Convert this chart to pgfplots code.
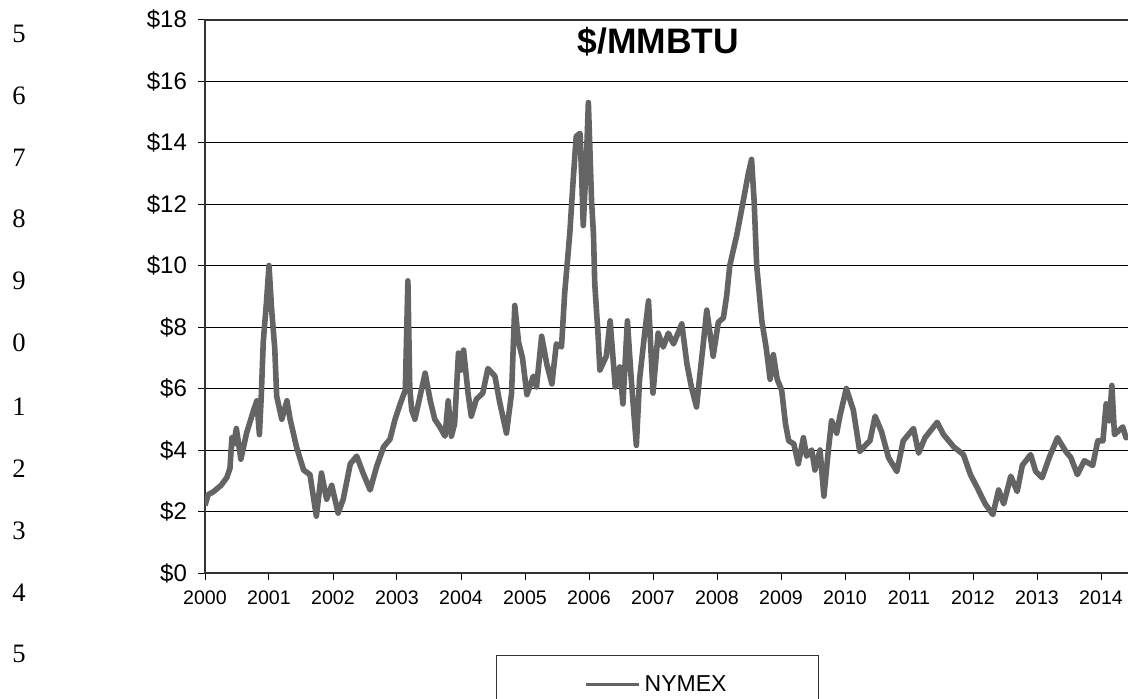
\documentclass[border=0pt]{standalone}
\usepackage{pgfplots}
\pgfplotsset{compat=1.18}
\usepackage{fontspec}
\setmainfont{Liberation Sans}
\newfontfamily\serifnum{Liberation Serif}
\definecolor{series}{RGB}{100,100,100}
\begin{document}
\begin{tikzpicture}
\useasboundingbox (0,0) rectangle (564pt,349pt);
% line numbers of the page
\foreach \n/\y in {5/332,6/301,7/270,8/239.5,9/208.5,0/177.5,1/145.5,2/114.5,3/83.5,4/52.5,5/22}
  \node[font=\serifnum\fontsize{13.3pt}{14pt}\selectfont, anchor=center, inner sep=0pt] at (9.5pt,\y pt) {\n};
\begin{axis}[
  at={(102.5pt,62.5pt)}, anchor=south west,
  scale only axis, width=464pt, height=276.75pt,
  xmin=2000, xmax=2014.5, ymin=0, ymax=18,
  xtick={2000,2001,...,2014},
  xticklabels={2000,2001,2002,2003,2004,2005,2006,2007,2008,2009,2010,2011,2012,2013,2014},
  ytick={0,2,...,18},
  yticklabels={\$0,\$2,\$4,\$6,\$8,\$10,\$12,\$14,\$16,\$18},
  tick align=outside, major tick length=3.5pt,
  xtick pos=bottom, ytick pos=left,
  ymajorgrids, grid style={black, line width=0.5pt},
  axis line style={black!80, line width=1pt},
  tick style={black, line width=0.5pt},
  xticklabel style={font=\fontsize{9.8pt}{11pt}\selectfont, yshift=-2pt},
  yticklabel style={font=\fontsize{12pt}{13pt}\selectfont, xshift=-2pt},
  title={\bfseries \$/MMBTU},
  title style={font=\fontsize{17.7pt}{20pt}\selectfont, at={(axis description cs:0.4885,0.9377)}, anchor=center},
  legend style={at={(axis description cs:0.4876,-0.148)}, anchor=north,
    draw=black!80, line width=0.5pt, inner xsep=44pt, inner ysep=8pt,
    font=\fontsize{11.5pt}{13pt}\selectfont, legend cell align=left},
  legend image code/.code={\draw[#1, line width=1.6pt] (0pt,0pt) -- (26.5pt,0pt);},
]
\addplot[series, line width=2.8pt, line join=round] table {
2000.00 2.20
2000.05 2.55
2000.13 2.64
2000.25 2.85
2000.34 3.10
2000.39 3.40
2000.42 4.40
2000.45 4.20
2000.49 4.70
2000.56 3.70
2000.65 4.55
2000.76 5.30
2000.81 5.60
2000.85 4.50
2000.88 5.80
2000.91 7.50
2000.96 8.80
2001.00 10.00
2001.04 8.60
2001.09 7.30
2001.12 5.75
2001.20 5.00
2001.28 5.60
2001.33 5.00
2001.43 4.10
2001.54 3.35
2001.64 3.20
2001.74 1.85
2001.82 3.25
2001.90 2.40
2001.98 2.85
2002.08 1.95
2002.16 2.40
2002.27 3.55
2002.37 3.80
2002.47 3.25
2002.58 2.70
2002.68 3.45
2002.79 4.10
2002.89 4.35
2002.97 5.00
2003.05 5.50
2003.13 5.95
2003.17 9.50
2003.20 6.00
2003.23 5.30
2003.28 5.00
2003.36 5.75
2003.44 6.50
2003.52 5.60
2003.59 5.00
2003.67 4.75
2003.75 4.45
2003.80 5.60
2003.85 4.45
2003.90 4.85
2003.96 7.15
2004.00 6.60
2004.04 7.25
2004.11 5.85
2004.16 5.10
2004.24 5.65
2004.34 5.85
2004.42 6.65
2004.53 6.40
2004.60 5.60
2004.71 4.55
2004.79 5.85
2004.84 8.70
2004.90 7.50
2004.96 7.00
2005.03 5.80
2005.13 6.40
2005.18 6.05
2005.26 7.70
2005.34 6.80
2005.42 6.15
2005.49 7.45
2005.57 7.35
2005.62 9.10
2005.70 11.05
2005.75 12.70
2005.80 14.20
2005.86 14.30
2005.89 12.60
2005.91 11.30
2005.96 13.50
2005.99 15.30
2006.04 12.10
2006.07 11.00
2006.09 9.40
2006.14 7.80
2006.17 6.60
2006.27 7.05
2006.33 8.20
2006.41 6.05
2006.48 6.70
2006.53 5.50
2006.60 8.20
2006.66 6.30
2006.74 4.15
2006.79 6.30
2006.87 7.80
2006.93 8.85
2007.00 5.85
2007.08 7.80
2007.16 7.35
2007.24 7.80
2007.32 7.45
2007.45 8.10
2007.53 6.80
2007.60 6.05
2007.68 5.40
2007.73 6.40
2007.78 7.35
2007.84 8.55
2007.94 7.05
2008.02 8.15
2008.10 8.30
2008.15 9.00
2008.20 10.00
2008.31 11.00
2008.41 12.10
2008.49 13.00
2008.54 13.45
2008.58 12.10
2008.62 10.00
2008.70 8.20
2008.77 7.30
2008.83 6.30
2008.88 7.10
2008.94 6.30
2009.01 5.95
2009.07 4.85
2009.12 4.30
2009.20 4.20
2009.27 3.55
2009.35 4.40
2009.40 3.80
2009.48 4.00
2009.53 3.35
2009.61 4.00
2009.67 2.50
2009.74 4.00
2009.79 4.95
2009.87 4.55
2009.92 5.10
2010.02 6.00
2010.13 5.30
2010.23 3.95
2010.34 4.20
2010.39 4.30
2010.47 5.10
2010.57 4.60
2010.68 3.75
2010.81 3.30
2010.91 4.30
2011.07 4.70
2011.15 3.90
2011.25 4.40
2011.44 4.90
2011.54 4.50
2011.70 4.10
2011.85 3.85
2011.96 3.20
2012.06 2.80
2012.19 2.25
2012.31 1.90
2012.40 2.70
2012.48 2.25
2012.59 3.15
2012.69 2.65
2012.77 3.50
2012.90 3.85
2012.98 3.30
2013.08 3.10
2013.19 3.75
2013.32 4.40
2013.45 3.95
2013.53 3.75
2013.63 3.20
2013.74 3.65
2013.87 3.50
2013.95 4.30
2014.03 4.30
2014.08 5.50
2014.13 4.95
2014.17 6.10
2014.21 4.50
2014.34 4.75
2014.39 4.40
2014.50 4.50
};
\addlegendentry{NYMEX}
\end{axis}
\end{tikzpicture}
\end{document}
